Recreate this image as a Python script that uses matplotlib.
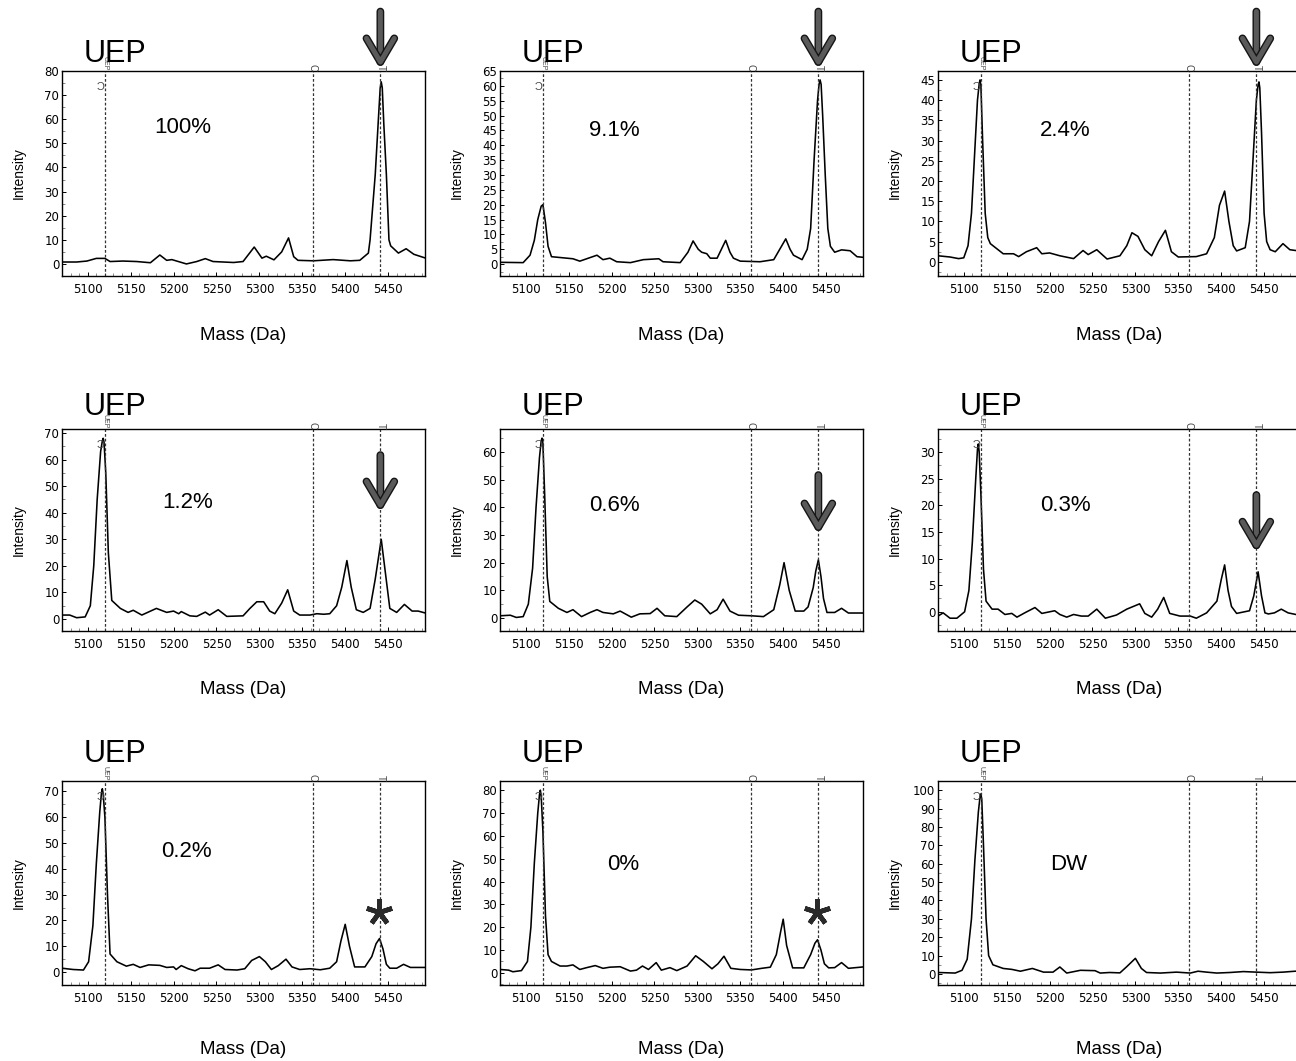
"""MALDI-TOF genotyping spectra: UEP / C / T peaks over a dilution series."""
import matplotlib
matplotlib.use("Agg")
import matplotlib.pyplot as plt
import matplotlib.patheffects as pe
from matplotlib.ticker import MultipleLocator, AutoMinorLocator
from matplotlib.transforms import blended_transform_factory, offset_copy

W, H = 1296, 1061

# expected masses (Da) of the primer and the two extension products
UEP_MASS = 5120
C_MASS = 5362
T_MASS = 5441

xticks = [5100, 5150, 5200, 5250, 5300, 5350, 5400, 5450]
labels = ["100%", "9.1%", "2.4%", "1.2%", "0.6%", "0.3%", "0.2%", "0%", "DW"]

# spectra (mass in Da, intensity)
m1 = [5070, 5087, 5099, 5110, 5120, 5126, 5141, 5157, 5173, 5184, 5192, 5198, 5215, 5227, 5237,
      5246, 5270, 5281, 5294, 5303, 5308, 5317, 5326, 5334, 5340, 5345, 5363, 5386, 5406, 5417,
      5427, 5429, 5435, 5439, 5440.8, 5442, 5443.2, 5445, 5448, 5451, 5453, 5462, 5471, 5480, 5493]
i1 = [0.8, 0.8, 1.2, 2.3, 2.3, 1.0, 1.2, 1.0, 0.5, 3.7, 1.5, 1.8, 0.0, 1.0, 2.2,
      1.0, 0.6, 1.0, 7.0, 2.4, 3.2, 1.7, 5.0, 10.8, 3.0, 1.5, 1.3, 1.8, 1.3, 1.5,
      4.5, 10, 37, 62, 73, 75.5, 73, 58, 37, 10, 7.5, 4.5, 6.3, 4.0, 2.5]

m2 = [5071, 5097, 5105, 5110, 5114, 5118, 5120, 5123, 5126, 5130, 5155, 5163, 5183, 5190, 5198,
      5206, 5222, 5237, 5255, 5260, 5280, 5289, 5295, 5301, 5305, 5311, 5315, 5323, 5328, 5333,
      5338, 5342, 5350, 5373, 5389, 5396, 5403, 5408, 5412, 5422, 5428, 5432, 5436, 5440, 5441.8,
      5443, 5444.2, 5446, 5449, 5452, 5455, 5460, 5468, 5478, 5486, 5493]
i2 = [0.6, 0.5, 3, 8, 15, 19.5, 20, 14, 6, 2.5, 1.8, 1, 3, 1.5, 2,
      0.8, 0.5, 1.5, 1.8, 0.8, 0.5, 4, 7.8, 5, 4, 3.5, 2, 2, 5, 8,
      4, 2, 1, 0.8, 1.5, 5, 8.5, 5, 3, 1.5, 5, 12, 35, 55, 60.5,
      62, 60.5, 50, 30, 12, 6, 4, 4.8, 4.5, 2.5, 2.3]

m3 = [5070, 5084, 5094, 5100, 5105, 5109, 5113, 5116, 5118, 5119, 5120, 5122, 5125, 5128, 5131,
      5146, 5158, 5164, 5173, 5185, 5191, 5200, 5212, 5228, 5239, 5245, 5255, 5267, 5282, 5290,
      5296, 5303, 5311, 5319, 5327, 5335, 5342, 5350, 5371, 5383, 5392, 5398, 5404, 5409, 5414,
      5418, 5428, 5433, 5437, 5441, 5443, 5444, 5445, 5447, 5450, 5453, 5457, 5463, 5472, 5480,
      5487, 5493]
i3 = [1.5, 1.2, 0.8, 1.0, 4, 12, 28, 40, 44, 45, 43.5, 30, 12, 6, 4.5,
      2, 2, 1.3, 2.5, 3.5, 2, 2.2, 1.5, 0.8, 2.8, 1.8, 3, 0.7, 1.5, 4,
      7.2, 6.3, 3, 1.5, 5, 7.8, 2.5, 1.2, 1.3, 2, 6, 14, 17.5, 10, 4,
      2.7, 3.5, 10, 25, 40, 43.8, 44.5, 43, 32, 12, 5, 3, 2.5, 4.5, 3,
      2.8, 2.8]

m4 = [5070, 5079, 5087, 5097, 5103, 5107, 5111, 5115, 5117, 5118, 5119, 5121, 5124, 5128, 5138,
      5147, 5153, 5163, 5180, 5192, 5200, 5206, 5209, 5219, 5227, 5237, 5242, 5252, 5262, 5281,
      5289, 5297, 5305, 5312, 5318, 5326, 5333, 5340, 5347, 5359, 5367, 5375, 5382, 5390, 5396,
      5402, 5407, 5413, 5421, 5429, 5435, 5442, 5447, 5452, 5460, 5469, 5478, 5485, 5493]
i4 = [1.5, 1.5, 0.5, 0.8, 5, 20, 45, 63, 67, 68, 66.5, 55, 25, 7, 4,
      2.5, 3.3, 1.5, 4, 2.5, 3, 2, 2.8, 1.2, 1, 2.6, 1.5, 3.5, 1, 1.2,
      4, 6.5, 6.5, 3, 2, 6, 11, 3, 1.5, 1.5, 2, 1.8, 2, 5, 12,
      22, 12, 3.5, 2.5, 4, 15, 30, 17, 4, 2.5, 5.5, 3, 3, 2.3]

m5 = [5070, 5082, 5089, 5097, 5103, 5108, 5112, 5116, 5118, 5119, 5120, 5122, 5125, 5128, 5138,
      5148, 5155, 5165, 5175, 5183, 5190, 5202, 5210, 5223, 5233, 5245, 5253, 5262, 5276, 5288,
      5297, 5305, 5315, 5323, 5330, 5338, 5348, 5363, 5377, 5389, 5396, 5401, 5407, 5414, 5424,
      5429, 5435, 5438, 5441, 5444, 5447, 5451, 5460, 5468, 5476, 5493]
i5 = [0.8, 1.0, 0.2, 0.5, 5, 18, 40, 58, 64, 65, 63, 45, 15, 6, 3.5,
      2, 3, 0.5, 2, 3, 2, 1.5, 2.5, 0.3, 1.5, 1.6, 3.5, 0.8, 0.5, 4,
      6.5, 5, 1.5, 3, 6.8, 2.5, 1, 0.8, 0.5, 3, 12, 20, 10, 2.5, 2.5,
      4, 11, 17, 21, 15, 7, 2, 2, 3.5, 1.8, 1.8]

m6 = [5070, 5076, 5084, 5092, 5101, 5106, 5110, 5114, 5116, 5117, 5118, 5120, 5123, 5126, 5133,
      5140, 5148, 5156, 5162, 5171, 5183, 5191, 5206, 5212, 5220, 5228, 5237, 5245, 5255, 5265,
      5278, 5290, 5305, 5311, 5319, 5326, 5333, 5340, 5352, 5364, 5371, 5383, 5395, 5400, 5404,
      5408, 5412, 5418, 5433, 5438, 5443, 5447, 5451, 5455, 5462, 5470, 5478, 5487, 5493]
i6 = [-0.8, -0.2, -1.2, -1.2, 0, 4, 13, 25, 30.5, 31.5, 30, 22, 8, 2, 0.5,
      0.5, -0.5, -0.3, -1, -0.2, 0.8, -0.3, 0.2, -0.5, -1, -0.5, -0.8, -0.8, 0.5, -1.2,
      -0.6, 0.5, 1.5, -0.3, -1, 0.5, 2.7, -0.3, -0.8, -0.8, -1.2, -0.2, 2, 6, 8.8,
      4, 1, -0.3, 0.2, 3, 7.5, 3, -0.2, -0.4, -0.2, 0.5, -0.2, -0.5, -0.5]

m7 = [5070, 5083, 5095, 5101, 5106, 5110, 5114, 5116, 5117, 5118, 5120, 5123, 5126, 5134, 5145,
      5153, 5161, 5171, 5184, 5192, 5200, 5203, 5209, 5217, 5225, 5231, 5242, 5252, 5260, 5274,
      5283, 5291, 5300, 5307, 5314, 5322, 5331, 5338, 5347, 5359, 5371, 5382, 5390, 5395, 5400,
      5405, 5411, 5423, 5431, 5436, 5440, 5444, 5448, 5452, 5460, 5468, 5476, 5493]
i7 = [1.5, 1, 0.8, 4, 18, 42, 62, 69.5, 71, 69, 60, 30, 7, 4, 2.3,
      3, 1.8, 2.8, 2.6, 1.8, 2, 1, 2.5, 1.3, 0.5, 1.5, 1.5, 2.8, 1, 0.8,
      1.3, 4.5, 6, 4, 1, 2.5, 5, 2, 1, 1.3, 0.9, 1.5, 4, 12, 18.5,
      10, 2, 2, 6, 11, 13, 9, 3, 1.5, 1.5, 3, 1.8, 1.8]

m8 = [5070, 5080, 5085, 5095, 5102, 5106, 5110, 5114, 5116, 5117, 5118, 5120, 5123, 5126, 5130,
      5140, 5148, 5155, 5163, 5171, 5181, 5190, 5198, 5210, 5222, 5229, 5236, 5243, 5252, 5258,
      5268, 5276, 5288, 5298, 5307, 5317, 5324, 5331, 5339, 5350, 5363, 5375, 5385, 5392, 5397,
      5400, 5404, 5411, 5424, 5432, 5437, 5440, 5444, 5448, 5453, 5460, 5468, 5476, 5493]
i8 = [1.5, 1.2, 0.5, 1, 5, 20, 48, 70, 78, 80, 77.5, 62, 25, 8, 5,
      3, 3, 3.5, 1.5, 2.3, 3.2, 2, 2.5, 2.7, 0.8, 1.2, 3, 1.5, 4.5, 1.2,
      2.3, 1, 3, 7.5, 5, 1.8, 4, 7.3, 2, 1.5, 1.3, 2, 2.5, 8, 18,
      23.5, 12, 2.2, 2.2, 8, 13, 14.5, 10, 4, 2.2, 2.3, 4.5, 2, 2.6]

m9 = [5070, 5090, 5098, 5104, 5109, 5113, 5117, 5119, 5120, 5121, 5123, 5126, 5129, 5134, 5146,
      5156, 5166, 5180, 5193, 5204, 5212, 5220, 5236, 5253, 5259, 5270, 5282, 5290, 5300, 5307,
      5313, 5329, 5348, 5364, 5373, 5383, 5395, 5410, 5426, 5441, 5457, 5472, 5486, 5496]
i9 = [0.8, 0.5, 2, 8, 30, 62, 88, 96.5, 98, 95, 70, 30, 10, 5, 3,
      2.5, 1.5, 3, 1, 1, 3.8, 0.5, 2, 1.8, 0.5, 0.8, 0.6, 4, 8.5, 3,
      0.8, 0.5, 1, 0.5, 1.5, 1, 0.5, 0.8, 1.3, 1, 0.7, 1, 1.5, 1.5]

masses = [m1, m2, m3, m4, m5, m6, m7, m8, m9]
intens = [i1, i2, i3, i4, i5, i6, i7, i8, i9]

ylims = [(-5, 80), (-4, 65), (-3.5, 47.2), (-4.5, 71.5), (-4.7, 68.3), (-3.6, 34.3),
         (-5, 74), (-5.3, 84), (-6, 105)]
ytick_max = [80, 65, 45, 70, 60, 30, 70, 80, 100]
ytick_step = [10, 5, 5, 10, 10, 5, 10, 10, 10]

# what sits above the T peak: arrow (tail, tip in axes fraction), asterisk, or nothing
marks = [("arrow", 1.29, 1.02), ("arrow", 1.29, 1.02), ("arrow", 1.29, 1.02),
         ("arrow", 0.871, 0.599), ("arrow", 0.772, 0.49), ("arrow", 0.673, 0.40),
         ("star", 0.358, None), ("star", 0.358, None), (None, None, None)]

# layout in pixels
XMIN, XMAX = 5070, 5493
col_left = [62, 500, 938]
ax_w = 363
row_top = [71, 429, 781]
row_bot = [276, 631, 985]
uep_rise = [9, 14, 19]
xlabel_y = [335, 690, 1050]
pct_xy = [(183, 133), (614, 136), (1065, 136), (188, 508), (614, 511), (1065, 511),
          (186, 857), (623, 870), (1069, 870)]

TICK_FONT = ["Liberation Sans Narrow", "DejaVu Sans"]
TEXT_FONT = ["Liberation Sans", "DejaVu Sans"]

fig = plt.figure(figsize=(W / 100, H / 100), dpi=100)


def fx(x):
    return x / W


def fy(y):
    return 1 - y / H


for k in range(9):
    row, col = divmod(k, 3)
    left, top, bot = col_left[col], row_top[row], row_bot[row]
    ax = fig.add_axes([fx(left), fy(bot), ax_w / W, (bot - top) / H])

    ax.plot(masses[k], intens[k], color="black", lw=1.15)
    for m in (UEP_MASS, C_MASS, T_MASS):
        ax.axvline(m, color="#333333", ls=(0, (2.2, 1.6)), lw=0.9)

    ax.set_xlim(XMIN, XMAX)
    ax.set_ylim(*ylims[k])
    ax.set_xticks(xticks)
    ax.set_yticks(range(0, ytick_max[k] + 1, ytick_step[k]))
    ax.xaxis.set_minor_locator(MultipleLocator(10))
    ax.yaxis.set_minor_locator(AutoMinorLocator(2))
    ax.tick_params(which="major", direction="in", length=3, width=0.7, pad=5)
    ax.tick_params(axis="y", which="major", pad=2)
    ax.tick_params(which="minor", direction="in", length=2, width=0.6, color="#777777")
    for lab in ax.get_xticklabels() + ax.get_yticklabels():
        lab.set_family(TICK_FONT)
        lab.set_fontsize(8.5)
    for sp in ax.spines.values():
        sp.set_linewidth(1.0)

    bt = blended_transform_factory(ax.transData, ax.transAxes)

    # small marker names printed by the instrument software
    ax.text(UEP_MASS, 1.0, "UEP", transform=bt, rotation=-90, fontsize=5,
            ha="center", va="bottom", color="#444444", family=TEXT_FONT)
    ax.text(UEP_MASS, 1.0, "C", rotation=180, fontsize=8, color="#444444",
            transform=offset_copy(bt, fig=fig, x=-5, y=-12, units="dots"),
            ha="center", va="center", family=TEXT_FONT)
    ax.text(C_MASS, 1.0, "C", transform=bt, rotation=-90, fontsize=7,
            ha="center", va="bottom", color="#444444", family=TEXT_FONT)
    ax.text(T_MASS, 1.0, "T", transform=bt, rotation=-90, fontsize=7,
            ha="center", va="bottom", color="#444444", family=TEXT_FONT)

    # big UEP label
    ax.text(UEP_MASS, 1.0, "UEP", fontsize=22, family=TEXT_FONT, ha="left", va="baseline",
            transform=offset_copy(bt, fig=fig, x=-21, y=uep_rise[row], units="dots"))

    px, py = pct_xy[k]
    fig.text(fx(px), fy(py), labels[k], fontsize=16, family=TEXT_FONT,
             ha="center", va="baseline")
    fig.text(fx(left - 43), fy((top + bot) / 2), "Intensity", rotation=90, fontsize=10,
             family=TEXT_FONT, ha="center", va="center")
    fig.text(fx(left + ax_w / 2), fy(xlabel_y[row]), "Mass (Da)", fontsize=13.5,
             family=TEXT_FONT, ha="center", va="center")

    kind, a, b = marks[k]
    if kind == "arrow":
        ann = ax.annotate("", xy=(T_MASS, b), xycoords=bt, xytext=(T_MASS, a), textcoords=bt,
                          annotation_clip=False,
                          arrowprops=dict(arrowstyle="->,head_length=1.7,head_width=1.0",
                                          lw=3.6, color="#5a5a5a", mutation_scale=10,
                                          shrinkA=0, shrinkB=0))
        ann.arrow_patch.set_path_effects([pe.Stroke(linewidth=5.6, foreground="#151515"),
                                          pe.Normal()])
    elif kind == "star":
        ax.plot([T_MASS - 1.5], [a], transform=bt, marker=(5, 2, 0), ms=19, mew=3.4,
                color="#2a2a2a", clip_on=False)

fig.savefig("out.png", dpi=100)
